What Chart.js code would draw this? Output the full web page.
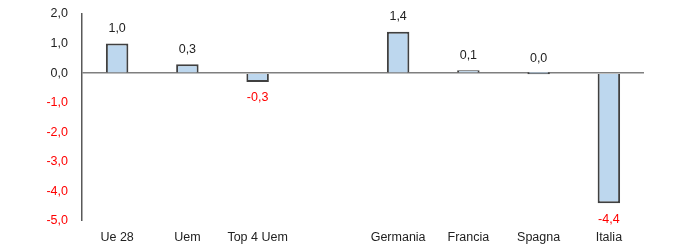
<!DOCTYPE html>
<html>
<head>
<meta charset="utf-8">
<script src="https://cdn.jsdelivr.net/npm/chart.js@4/dist/chart.umd.min.js"></script>
<style>
html,body{margin:0;padding:0;background:#fff;}
#wrap{width:700px;height:248px;position:relative;}
</style>
</head>
<body>
<div id="wrap"><canvas id="c" width="700" height="248"></canvas></div>
<script>
const categories = ["Ue 28", "Uem", "Top 4 Uem", "", "Germania", "Francia", "Spagna", "Italia"];
const values = [1.0, 0.3, -0.3, null, 1.4, 0.1, 0.0, -4.4];
const yMin = -5, yMax = 2, yStep = 1;

const FONT = '"Liberation Sans", Arial, sans-serif';
function fmt(v){ return v.toFixed(1).replace('.', ','); }

const valueLabels = {
  id: 'valueLabels',
  afterDatasetsDraw(chart){
    const ctx = chart.ctx;
    const meta = chart.getDatasetMeta(0);
    ctx.save();
    ctx.font = '12.5px ' + FONT;
    ctx.textAlign = 'center';
    ctx.textBaseline = 'middle';
    meta.data.forEach((bar, i) => {
      const v = values[i];
      if (v === null || v === undefined) return;
      const y0 = chart.scales.y.getPixelForValue(0);
      let y;
      if (v >= 0) { y = Math.min(bar.y, y0) - 15; ctx.fillStyle = '#222'; }
      else { y = bar.y + 16; ctx.fillStyle = '#ff0000'; }
      ctx.fillText(fmt(v), bar.x, y);
    });
    ctx.restore();
  }
};

new Chart(document.getElementById('c'), {
  type: 'bar',
  data: {
    labels: categories,
    datasets: [{
      data: values,
      backgroundColor: '#BDD7EE',
      borderColor: '#404040',
      borderWidth: 2,
      minBarLength: 2,
      barPercentage: 0.32,
      categoryPercentage: 1.0
    }]
  },
  options: {
    responsive: false,
    animation: false,
    devicePixelRatio: 1,
    layout: { padding: { top: 14, right: 56, left: 0, bottom: 0 } },
    plugins: { legend: { display: false }, tooltip: { enabled: false } },
    scales: {
      x: {
        grid: { display: false, drawTicks: false },
        border: { display: false },
        ticks: {
          color: '#222',
          font: { family: FONT, size: 12.5 },
          padding: 9,
          maxRotation: 0,
          autoSkip: false
        },
        afterFit(scale){ scale.height = 27; scale.paddingLeft = 0; scale.paddingRight = 0; }
      },
      y: {
        min: yMin, max: yMax,
        ticks: {
          stepSize: yStep,
          padding: 14,
          font: { family: FONT, size: 12.5 },
          color: (c) => c.tick.value < 0 ? '#ff0000' : '#222',
          callback: (v) => fmt(v)
        },
        grid: {
          drawTicks: false,
          color: (c) => c.tick && c.tick.value === 0 ? '#7f7f7f' : 'rgba(0,0,0,0)',
          lineWidth: (c) => c.tick && c.tick.value === 0 ? 1.5 : 0
        },
        border: { display: true, color: '#595959', width: 1.5 },
        afterFit(scale){ scale.width = 82; scale.paddingTop = 0; scale.paddingBottom = 0; }
      }
    }
  },
  plugins: [valueLabels]
});
</script>
</body>
</html>
